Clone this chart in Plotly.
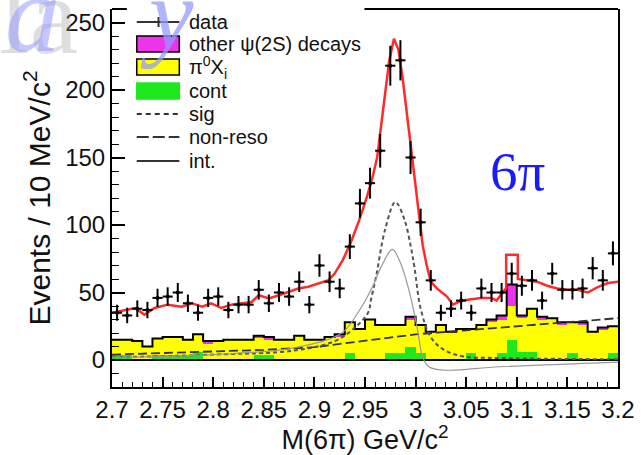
import numpy as np
import plotly.graph_objects as go

# ---------------- data ----------------
bin_lo = 2.70
bin_w = 0.01
n_bins = 50
bin_centers = [round(bin_lo + bin_w * (i + 0.5), 4) for i in range(n_bins)]

data_counts = [35, 33, 38, 37, 46, 47, 50, 42, 35, 46,
               47, 37, 41, 41, 52, 42, 50, 47, 58, 41,
               70, 58, 53, 84, 116, 131, 155, 218, 222, 150,
               102, 59, 35, 38, 44, 35, 53, 50, 50, 64,
               55, 59, 44, 64, 52, 52, 53, 68, 59, 79]

cont = [4, 4, 0, 0, 4, 4, 4, 4, 6, 0,
        0, 0, 0, 0, 4, 4, 0, 0, 0, 0,
        0, 0, 0, 5, 0, 0, 0, 5, 5, 10,
        5, 0, 0, 0, 0, 5, 0, 0, 5, 15,
        6, 6, 0, 0, 0, 5, 0, 0, 0, 5]

pi0xi = [11, 11, 14, 10, 12, 13, 13, 11, 13, 12,
         14, 15, 15, 15, 12, 11, 15, 15, 18, 15,
         15, 17, 17, 23, 23, 30, 26, 21, 21, 20,
         21, 21, 26, 21, 23, 18, 26, 28, 25, 25,
         25, 32, 30, 31, 26, 23, 26, 21, 22, 20]

other_psi2s = [0, 0, 0, 0, 0, 0, 0, 0, 0, 2,
               0, 0, 0, 0, 2, 2, 0, 0, 0, 0,
               0, 0, 2, 0, 0, 0, 0, 0, 0, 2,
               0, 0, 0, 0, 0, 0, 0, 2, 3, 16,
               2, 0, 2, 0, 2, 0, 2, 0, 2, 0]

# total fit curve (red)
fit_x = [2.700, 2.713, 2.723, 2.732, 2.742, 2.755, 2.769, 2.779, 2.789, 2.798,
         2.808, 2.818, 2.828, 2.838, 2.845, 2.855, 2.865, 2.875, 2.884, 2.894,
         2.904, 2.914, 2.920, 2.928, 2.936, 2.944, 2.952, 2.958, 2.962, 2.966,
         2.970, 2.974, 2.9786, 2.983, 2.987, 2.991, 2.995, 2.999, 3.003, 3.007,
         3.011, 3.015, 3.021, 3.031, 3.037, 3.045, 3.055, 3.065, 3.075, 3.080,
         3.087, 3.0895, 3.0895, 3.101, 3.101, 3.110, 3.120, 3.130, 3.140, 3.150,
         3.160, 3.170, 3.180, 3.190, 3.200]
fit_y = [35, 37, 38.5, 33.5, 38.5, 41, 39.5, 42, 39.5, 42,
         38.5, 41, 42, 43, 48, 45.6, 48, 50.6, 53, 54.3,
         56.8, 59.2, 64, 74, 87, 103, 121, 137, 150, 175,
         200, 222, 238, 230, 210, 185, 158, 133, 108, 85,
         70, 58, 53, 47, 41, 44, 45, 46, 46, 44,
         51, 53, 78, 78, 60, 59, 58, 55, 53, 52,
         52, 50, 54, 57, 58]

sig_x = [2.70, 2.80, 2.88, 2.92, 2.94, 2.953, 2.956, 2.961, 2.970, 2.980,
         2.989, 2.995, 2.999, 3.005, 3.015, 3.028, 3.048, 3.08, 3.20]
sig_y = [2, 4, 7, 14, 24, 35, 45, 62, 97, 117,
         104, 85, 68, 38, 17, 7.5, 2.5, 1.5, 0.5]

nonreso_x = [2.70, 2.75, 2.80, 2.85, 2.90, 2.95, 3.00, 3.05, 3.10, 3.15, 3.20]
nonreso_y = [4, 5, 6, 7.5, 9.5, 14, 19, 22, 25, 28, 31]

int_x = [2.70, 2.80, 2.88, 2.927, 2.943, 2.956, 2.966, 2.977, 2.985, 2.995,
         3.002, 3.007, 3.013, 3.028, 3.083, 3.20]
int_y = [2, 4, 9, 20, 35, 52, 69, 82, 72, 47,
         22, 2, -5, -7.5, -5, -1.5]

x_tickvals = [2.7, 2.75, 2.8, 2.85, 2.9, 2.95, 3.0, 3.05, 3.1, 3.15, 3.2]
x_ticktext = ["2.7", "2.75", "2.8", "2.85", "2.9", "2.95", "3", "3.05", "3.1", "3.15", "3.2"]
y_tickvals = [0, 50, 100, 150, 200, 250]

# ---------------- figure ----------------
W, H = 644, 455
L, R, T, B = 112, 21, 9, 68
PW, PH = W - L - R, H - T - B
FONT = "Liberation Sans, Arial, sans-serif"
TXT = "#111111"


def pxx(px):
    return (px - L) / PW


def pxy(py):
    return (H - B - py) / PH


fig = go.Figure()

# stacked histograms
fig.add_trace(go.Bar(x=bin_centers, y=cont, width=bin_w, marker=dict(color="#1ee81e", line=dict(width=0)),
                     showlegend=False, hoverinfo="skip"))
fig.add_trace(go.Bar(x=bin_centers, y=pi0xi, width=bin_w, marker=dict(color="#ffff00", line=dict(width=0)),
                     showlegend=False, hoverinfo="skip"))
fig.add_trace(go.Bar(x=bin_centers, y=other_psi2s, width=bin_w, marker=dict(color="#ee33ee", line=dict(width=0)),
                     showlegend=False, hoverinfo="skip"))

# outline of stack top
totals = [c + p + o for c, p, o in zip(cont, pi0xi, other_psi2s)]
edges = [round(bin_lo + bin_w * i, 4) for i in range(n_bins + 1)]
fig.add_trace(go.Scatter(x=edges, y=totals + [totals[-1]], mode="lines", line=dict(color="black", width=2, shape="hv"),
                         showlegend=False, hoverinfo="skip"))
fig.add_trace(go.Scatter(x=[edges[0], edges[-1]], y=[0, 0], mode="lines", line=dict(color="black", width=2),
                         showlegend=False, hoverinfo="skip"))

# components
fig.add_trace(go.Scatter(x=nonreso_x, y=nonreso_y, mode="lines",
                         line=dict(color="#333333", width=1.8, dash="9px,4px"), showlegend=False, hoverinfo="skip"))
fig.add_trace(go.Scatter(x=sig_x, y=sig_y, mode="lines", line_shape="spline",
                         line=dict(color="#555555", width=2, dash="4px,3px"), showlegend=False, hoverinfo="skip"))
fig.add_trace(go.Scatter(x=int_x, y=int_y, mode="lines", line_shape="spline",
                         line=dict(color="#999999", width=1.2), showlegend=False, hoverinfo="skip"))

# total fit
fig.add_trace(go.Scatter(x=fit_x, y=fit_y, mode="lines", line=dict(color="#ff2a2a", width=2.5),
                         showlegend=False, hoverinfo="skip"))

# data
fig.add_trace(go.Scatter(x=bin_centers, y=data_counts, mode="markers",
                         marker=dict(color="black", size=4),
                         error_y=dict(type="data", array=list(np.sqrt(data_counts)), thickness=2, width=0, color="black"),
                         error_x=dict(type="constant", value=bin_w / 2, thickness=2, width=0, color="black"),
                         showlegend=False, hoverinfo="skip"))

shapes = []
# top frame segments (legend box hides part of it)
for a, b in [(112, 127), (367, 623)]:
    shapes.append(dict(type="line", xref="paper", yref="paper", x0=pxx(a), x1=pxx(b), y0=1, y1=1,
                       line=dict(color="black", width=2)))

# legend symbols
lx0, lx1 = 137, 180
leg_y = {"data": 22, "other": 44, "pi0": 67, "cont": 91, "sig": 114, "nonreso": 137, "int": 161}
shapes.append(dict(type="line", xref="paper", yref="paper", x0=pxx(lx0), x1=pxx(lx1),
                   y0=pxy(leg_y["data"]), y1=pxy(leg_y["data"]), line=dict(color="#333", width=2)))
shapes.append(dict(type="line", xref="paper", yref="paper", x0=pxx(159), x1=pxx(159),
                   y0=pxy(leg_y["data"] - 5), y1=pxy(leg_y["data"] + 5), line=dict(color="#333", width=2)))
for key, col, border in [("other", "#ee33ee", True), ("pi0", "#ffff00", True), ("cont", "#1ee81e", False)]:
    yc = leg_y[key]
    shapes.append(dict(type="rect", xref="paper", yref="paper", x0=pxx(lx0), x1=pxx(lx1),
                       y0=pxy(yc - 8), y1=pxy(yc + 8), fillcolor=col,
                       line=dict(color="black" if border else col, width=1.5)))
shapes.append(dict(type="line", xref="paper", yref="paper", x0=pxx(lx0), x1=pxx(lx1),
                   y0=pxy(leg_y["sig"]), y1=pxy(leg_y["sig"]), line=dict(color="#333", width=2, dash="5px,4px")))
shapes.append(dict(type="line", xref="paper", yref="paper", x0=pxx(lx0), x1=pxx(lx1),
                   y0=pxy(leg_y["nonreso"]), y1=pxy(leg_y["nonreso"]), line=dict(color="#333", width=2, dash="12px,4px")))
shapes.append(dict(type="line", xref="paper", yref="paper", x0=pxx(lx0), x1=pxx(lx1),
                   y0=pxy(leg_y["int"]), y1=pxy(leg_y["int"]), line=dict(color="#333", width=2)))

legend_labels = [("data", "data"), ("other", "other ψ(2S) decays"), ("pi0", "π<sup>0</sup>X<sub>i</sub>"),
                 ("cont", "cont"), ("sig", "sig"), ("nonreso", "non-reso"), ("int", "int.")]
annotations = []
for key, txt in legend_labels:
    annotations.append(dict(x=pxx(188), y=pxy(leg_y[key]), xref="paper", yref="paper", text=txt,
                            showarrow=False, xanchor="left", yanchor="middle",
                            font=dict(family=FONT, size=20, color=TXT)))

annotations.append(dict(x=pxx(522), y=pxy(171), xref="paper", yref="paper", text="6π", showarrow=False,
                        xanchor="center", yanchor="middle",
                        font=dict(family="Liberation Serif, Times New Roman, serif", size=55, color="#1a1aff")))

# stray overlapping title fragment at top-left of the picture
annotations.append(dict(x=pxx(-4), y=pxy(16), xref="paper", yref="paper", text="la", showarrow=False,
                        xanchor="left", yanchor="middle",
                        font=dict(family="Liberation Serif, serif", size=110, color="rgba(160,160,160,0.35)")))
annotations.append(dict(x=pxx(2), y=pxy(14), xref="paper", yref="paper", text="<i>a</i>", showarrow=False,
                        xanchor="left", yanchor="middle",
                        font=dict(family="Liberation Serif, serif", size=110, color="rgba(150,155,255,0.55)")))
annotations.append(dict(x=pxx(138), y=pxy(14), xref="paper", yref="paper", text="<i>y</i>", showarrow=False,
                        xanchor="left", yanchor="middle",
                        font=dict(family="Liberation Serif, serif", size=100, color="rgba(150,155,255,0.75)")))

fig.update_layout(
    width=W, height=H,
    margin=dict(l=L, r=R, t=T, b=B, pad=0),
    paper_bgcolor="white", plot_bgcolor="white",
    barmode="stack", bargap=0,
    showlegend=False,
    shapes=shapes,
    annotations=annotations,
    font=dict(family=FONT, color=TXT),
    xaxis=dict(range=[2.7, 3.2], tickvals=x_tickvals, ticktext=x_ticktext,
               ticks="inside", ticklen=10, tickwidth=1.5, tickcolor="black",
               minor=dict(dtick=0.01, tick0=2.7, ticks="inside", ticklen=5, tickwidth=1, tickcolor="black"),
               showline=True, linecolor="black", linewidth=2, mirror=False,
               showgrid=False, zeroline=False,
               tickfont=dict(family=FONT, size=24, color=TXT),
               title=dict(text="M(6π) GeV/c<sup>2</sup>", font=dict(family=FONT, size=27, color=TXT), standoff=4)),
    yaxis=dict(range=[-20, 260], tickvals=y_tickvals,
               ticks="inside", ticklen=13, tickwidth=1.5, tickcolor="black",
               minor=dict(dtick=10, tick0=0, ticks="inside", ticklen=7, tickwidth=1, tickcolor="black"),
               showline=True, linecolor="black", linewidth=2, mirror=True,
               showgrid=False, zeroline=False,
               tickfont=dict(family=FONT, size=24, color=TXT),
               title=dict(text="Events / 10 MeV/c<sup>2</sup>", font=dict(family=FONT, size=30, color=TXT), standoff=6)),
)

fig.write_html("out.html")
